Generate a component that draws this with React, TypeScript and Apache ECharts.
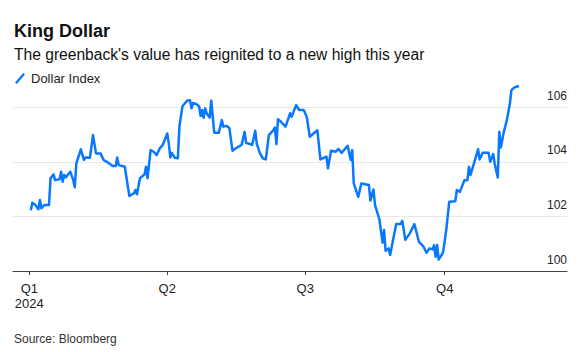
import React, { useEffect, useRef } from "react";
import * as echarts from "echarts";

const TITLE = "King Dollar";
const SUBTITLE = "The greenback's value has reignited to a new high this year";
const SOURCE = "Source: Bloomberg";
const SERIES_NAME = "Dollar Index";

const DATES = [
  "2024-01-02", "2024-01-03", "2024-01-05", "2024-01-07", "2024-01-08", "2024-01-09", "2024-01-11", "2024-01-14",
  "2024-01-15", "2024-01-17", "2024-01-18", "2024-01-21", "2024-01-22", "2024-01-23", "2024-01-24", "2024-01-25",
  "2024-01-28", "2024-01-30", "2024-01-31", "2024-02-01", "2024-02-04", "2024-02-06", "2024-02-07", "2024-02-10",
  "2024-02-12", "2024-02-14", "2024-02-17", "2024-02-19", "2024-02-22", "2024-02-25", "2024-02-27", "2024-02-28",
  "2024-02-29", "2024-03-04", "2024-03-07", "2024-03-10", "2024-03-11", "2024-03-12", "2024-03-14", "2024-03-17",
  "2024-03-18", "2024-03-19", "2024-03-21", "2024-03-23", "2024-03-25", "2024-03-27", "2024-03-29", "2024-04-01",
  "2024-04-02", "2024-04-03", "2024-04-04", "2024-04-06", "2024-04-08", "2024-04-09", "2024-04-11", "2024-04-14",
  "2024-04-16", "2024-04-17", "2024-04-18", "2024-04-20", "2024-04-22", "2024-04-23", "2024-04-24", "2024-04-25",
  "2024-04-26", "2024-04-27", "2024-04-29", "2024-04-30", "2024-05-02", "2024-05-05", "2024-05-07", "2024-05-08",
  "2024-05-10", "2024-05-12", "2024-05-14", "2024-05-16", "2024-05-20", "2024-05-22", "2024-05-23", "2024-05-27",
  "2024-05-29", "2024-05-30", "2024-06-01", "2024-06-03", "2024-06-05", "2024-06-07", "2024-06-10", "2024-06-11",
  "2024-06-12", "2024-06-13", "2024-06-15", "2024-06-18", "2024-06-21", "2024-06-22", "2024-06-25", "2024-06-27",
  "2024-06-30", "2024-07-02", "2024-07-04", "2024-07-09", "2024-07-11", "2024-07-15", "2024-07-16", "2024-07-18",
  "2024-07-21", "2024-07-23", "2024-07-25", "2024-07-29", "2024-07-31", "2024-08-01", "2024-08-02", "2024-08-05",
  "2024-08-07", "2024-08-12", "2024-08-13", "2024-08-15", "2024-08-16", "2024-08-19", "2024-08-21", "2024-08-22",
  "2024-08-23", "2024-08-25", "2024-08-26", "2024-08-30", "2024-09-02", "2024-09-03", "2024-09-05", "2024-09-08",
  "2024-09-11", "2024-09-14", "2024-09-17", "2024-09-19", "2024-09-21", "2024-09-23", "2024-09-24", "2024-09-25",
  "2024-09-26", "2024-09-27", "2024-09-29", "2024-09-30", "2024-10-02", "2024-10-04", "2024-10-08", "2024-10-09",
  "2024-10-11", "2024-10-14", "2024-10-16", "2024-10-17", "2024-10-18", "2024-10-21", "2024-10-23", "2024-10-24",
  "2024-10-26", "2024-10-30", "2024-10-31", "2024-11-02", "2024-11-03", "2024-11-05", "2024-11-06", "2024-11-07",
  "2024-11-09", "2024-11-11", "2024-11-13", "2024-11-14", "2024-11-16", "2024-11-19",
];

const VALUES = [
  102.23, 102.5, 102.42, 102.26, 102.6, 102.3, 102.42, 102.42,
  103.4, 103.54, 103.33, 103.36, 103.64, 103.27, 103.52, 103.43,
  103.64, 103.33, 103.07, 103.94, 104.46, 104.07, 104.16, 104.15,
  104.98, 104.31, 104.31, 104.07, 103.97, 103.85, 103.85, 104.16,
  103.88, 103.82, 102.75, 102.85, 102.97, 102.81, 103.4, 103.54,
  103.82, 103.4, 104.43, 104.37, 104.25, 104.49, 104.62, 105.04,
  104.68, 104.16, 104.33, 104.15, 104.13, 105.29, 106.04, 106.24,
  106.26, 105.96, 106.16, 106.12, 106.04, 105.68, 105.9, 105.62,
  105.96, 105.78, 105.63, 106.24, 105.07, 105.07, 105.53, 105.29,
  105.32, 105.23, 104.41, 104.49, 104.62, 105.1, 104.7, 104.62,
  105.14, 104.68, 104.33, 104.13, 104.09, 104.98, 105.16, 105.26,
  104.65, 105.56, 105.47, 105.29, 105.78, 105.65, 106.08, 105.9,
  105.9, 105.65, 104.92, 105.16, 104.09, 104.19, 103.76, 104.41,
  104.37, 104.47, 104.33, 104.59, 104.07, 104.43, 103.21, 102.72,
  103.21, 103.15, 102.58, 102.99, 102.42, 101.87, 101.04, 101.5,
  100.74, 100.83, 100.59, 101.72, 101.72, 101.84, 101.14, 101.38,
  101.72, 101.07, 100.89, 100.67, 100.83, 100.79, 100.95, 100.52,
  100.95, 100.42, 100.59, 100.71, 101.5, 102.54, 102.56, 102.97,
  102.9, 103.33, 103.33, 103.82, 103.52, 104.07, 104.46, 104.09,
  104.33, 104.33, 104.0, 104.29, 103.92, 103.43, 105.1, 104.53,
  105.1, 105.53, 106.14, 106.63, 106.73, 106.78,
];

const QUARTER_STARTS = ["2024-01-01", "2024-04-01", "2024-07-01", "2024-10-01"];
const QUARTER_LABELS = ["Q1\n2024", "Q2", "Q3", "Q4"];

const Y_MIN = 100;
const Y_MAX = 107;
const Y_INTERVAL = 2;

const DAY = 86400000;
const FONT = "'Liberation Sans', Arial, Helvetica, sans-serif";
const BLUE = "#0a77ff";

function toTime(s: string): number {
  const [y, m, d] = s.split("-").map(Number);
  return Date.UTC(y, m - 1, d);
}

export default function App() {
  const ref = useRef<HTMLDivElement>(null);

  useEffect(() => {
    if (!ref.current) return;
    const chart = echarts.init(ref.current, null, { renderer: "svg" });
    const qTimes = QUARTER_STARTS.map(toTime);
    const start = qTimes[0];
    const data = DATES.map((d, i) => [toTime(d), VALUES[i]]);

    chart.setOption({
      animation: false,
      backgroundColor: "#ffffff",
      textStyle: { fontFamily: FONT },
      title: [
        {
          text: TITLE,
          left: 14,
          top: 22,
          padding: 0,
          textStyle: { fontFamily: FONT, fontSize: 18, fontWeight: "bold", color: "#111", lineHeight: 18 },
        },
        {
          text: SUBTITLE,
          left: 14,
          top: 46,
          padding: 0,
          textStyle: { fontFamily: FONT, fontSize: 15.6, fontWeight: "normal", color: "#111", lineHeight: 16 },
        },
        {
          text: SOURCE,
          left: 14,
          top: 333,
          padding: 0,
          textStyle: { fontFamily: FONT, fontSize: 12, fontWeight: "normal", color: "#333", lineHeight: 12 },
        },
      ],
      legend: {
        left: 15,
        top: 72,
        padding: 0,
        itemWidth: 10,
        itemHeight: 11,
        itemGap: 10,
        icon: "path://M0,9.4 L8.2,0 L10,1.6 L1.8,11 Z",
        textStyle: { fontFamily: FONT, fontSize: 13, color: "#222", padding: [0, 0, 0, 1] },
        data: [{ name: SERIES_NAME, itemStyle: { color: BLUE } }],
      },
      grid: { left: 13, right: 18, top: 80, bottom: 81, containLabel: false },
      xAxis: {
        type: "value",
        min: start - 10.75 * DAY,
        max: start + 354.66 * DAY,
        axisLine: { show: true, lineStyle: { color: "#444", width: 1 } },
        axisTick: { show: true, length: 4, lineStyle: { color: "#444", width: 1 }, customValues: qTimes },
        axisLabel: {
          customValues: qTimes,
          margin: 10,
          fontFamily: FONT,
          fontSize: 13,
          lineHeight: 15,
          color: "#222",
          formatter: (v: number) => {
            let best = -1;
            let bd = Infinity;
            qTimes.forEach((t, i) => {
              const dd = Math.abs(t - v);
              if (dd < bd) { bd = dd; best = i; }
            });
            return bd < 2 * DAY ? QUARTER_LABELS[best] : "";
          },
        },
        splitLine: { show: false },
      },
      yAxis: {
        type: "value",
        position: "right",
        min: Y_MIN,
        max: Y_MAX,
        interval: Y_INTERVAL,
        axisLine: { show: false },
        axisTick: { show: false },
        splitLine: { show: true, showMaxLine: false, lineStyle: { color: "#e8e8e8", width: 1 } },
        axisLabel: {
          inside: true,
          margin: 0,
          showMaxLabel: false,
          fontFamily: FONT,
          fontSize: 12,
          lineHeight: 13,
          color: "#222",
          verticalAlign: "bottom",
          padding: [0, 0, 5, 0],
        },
      },
      series: [
        {
          name: SERIES_NAME,
          type: "line",
          data,
          showSymbol: false,
          symbol: "none",
          lineStyle: { color: BLUE, width: 2.5, join: "round" },
          itemStyle: { color: BLUE },
          z: 3,
        },
      ],
    });

    return () => chart.dispose();
  }, []);

  return (
    <div
      ref={ref}
      style={{ position: "fixed", left: 0, top: 0, width: 585, height: 352, background: "#fff" }}
    />
  );
}
